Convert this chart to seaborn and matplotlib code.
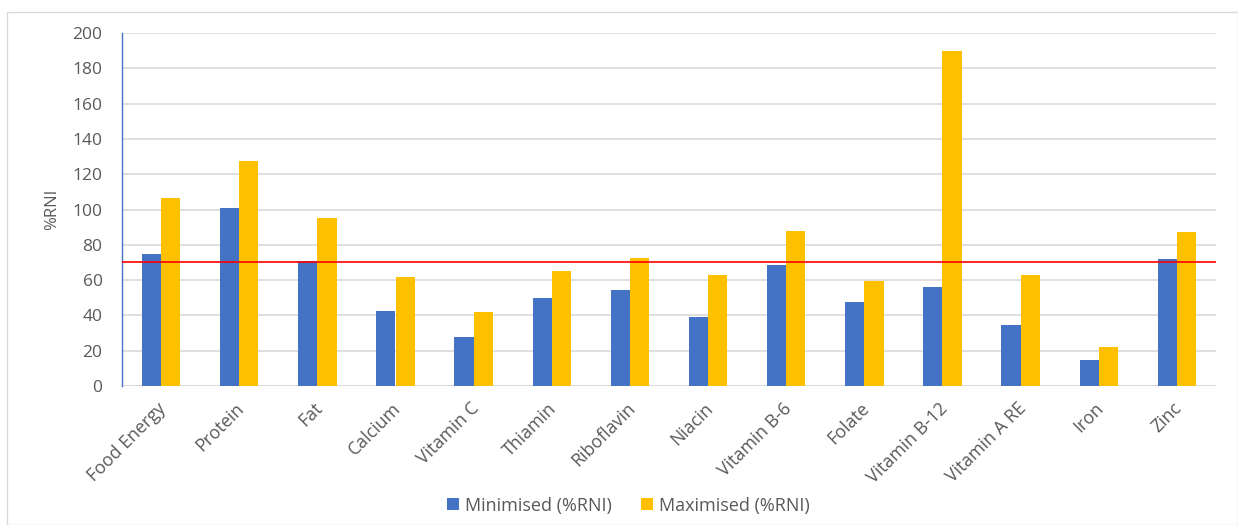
import matplotlib
matplotlib.use("Agg")
import matplotlib.pyplot as plt
import matplotlib.patches as mpatches
import matplotlib.transforms as mtransforms
import seaborn as sns
import pandas as pd

categories = ["Food Energy", "Protein", "Fat", "Calcium", "Vitamin C", "Thiamin",
              "Riboflavin", "Niacin", "Vitamin B-6", "Folate", "Vitamin B-12",
              "Vitamin A RE", "Iron", "Zinc"]
minimised = [75, 101, 71, 42.5, 27.8, 50, 54.6, 39.3, 68.5, 47.4, 56.3, 34.5, 14.8, 72]
maximised = [106.5, 127.7, 95.3, 61.8, 41.7, 65, 72.5, 62.8, 88, 59.7, 189.7, 62.8, 22, 87.3]
series_names = ["Minimised (%RNI)", "Maximised (%RNI)"]
threshold = 70
y_ticks = [0, 20, 40, 60, 80, 100, 120, 140, 160, 180, 200]

df = pd.DataFrame({
    "Nutrient": categories * 2,
    "Value": minimised + maximised,
    "Series": [series_names[0]] * len(categories) + [series_names[1]] * len(categories),
})

sns.set_theme(style="white")
plt.rcParams["font.family"] = ["Open Sans", "DejaVu Sans"]

text_color = "#595959"
grid_color = "#D9D9D9"
colors = ["#4472C4", "#FFC000"]

fig = plt.figure(figsize=(12.38, 5.25), dpi=100)
fig.patch.set_facecolor("white")
ax = fig.add_axes([122 / 1238, 1 - 386 / 525, (1216 - 122) / 1238, (386 - 33) / 525])

sns.barplot(data=df, x="Nutrient", y="Value", hue="Series", palette=colors,
            saturation=1, width=0.49, ax=ax, edgecolor="none", linewidth=0,
            legend=False, zorder=3)

ax.set_ylim(0, 200)
ax.set_xlim(-0.5, len(categories) - 0.5)
ax.set_yticks(y_ticks)
ax.yaxis.grid(True, color=grid_color, linewidth=1.2, zorder=0)
ax.set_axisbelow(True)
for s in ["top", "right", "bottom"]:
    ax.spines[s].set_visible(False)
ax.spines["left"].set_color("#4472C4")
ax.spines["left"].set_linewidth(1.0)
ax.axhline(0, color=grid_color, linewidth=1.2, zorder=1)

ax.axhline(threshold, color="#FF0000", linewidth=1.2, zorder=4)

ax.tick_params(axis="both", length=0, colors=text_color)
ax.tick_params(axis="y", labelsize=12.5, pad=14)
ax.set_xlabel("")
ax.set_xticks(range(len(categories)))
ax.set_xticklabels(categories, rotation=45, ha="right", va="top",
                   rotation_mode="anchor", fontsize=12.8, color=text_color)
ax.tick_params(axis="x", pad=9.5)
offset = mtransforms.ScaledTranslation(-4 / 100, 0, fig.dpi_scale_trans)
for lbl in ax.get_xticklabels():
    lbl.set_transform(lbl.get_transform() + offset)

ax.set_ylabel("%RNI", fontsize=12, color=text_color)
ax.yaxis.set_label_coords(-0.057, 0.5)

handles = [mpatches.Patch(facecolor=c, edgecolor="none") for c in colors]
leg = fig.legend(handles, series_names, loc="center", bbox_to_anchor=(628.5 / 1238, 1 - 505.5 / 525),
                 ncol=2, frameon=False, fontsize=13, handlelength=0.66, handleheight=0.62,
                 handletextpad=0.33, columnspacing=1.6, borderpad=0, borderaxespad=0)
for t in leg.get_texts():
    t.set_color(text_color)

border = mpatches.Rectangle((7 / 1238, 0), 1 - 7 / 1238, 1 - 12 / 525,
                            transform=fig.transFigure, fill=False,
                            edgecolor=grid_color, linewidth=1.0)
fig.patches.append(border)

fig.savefig("out.png", dpi=100, facecolor="white")
